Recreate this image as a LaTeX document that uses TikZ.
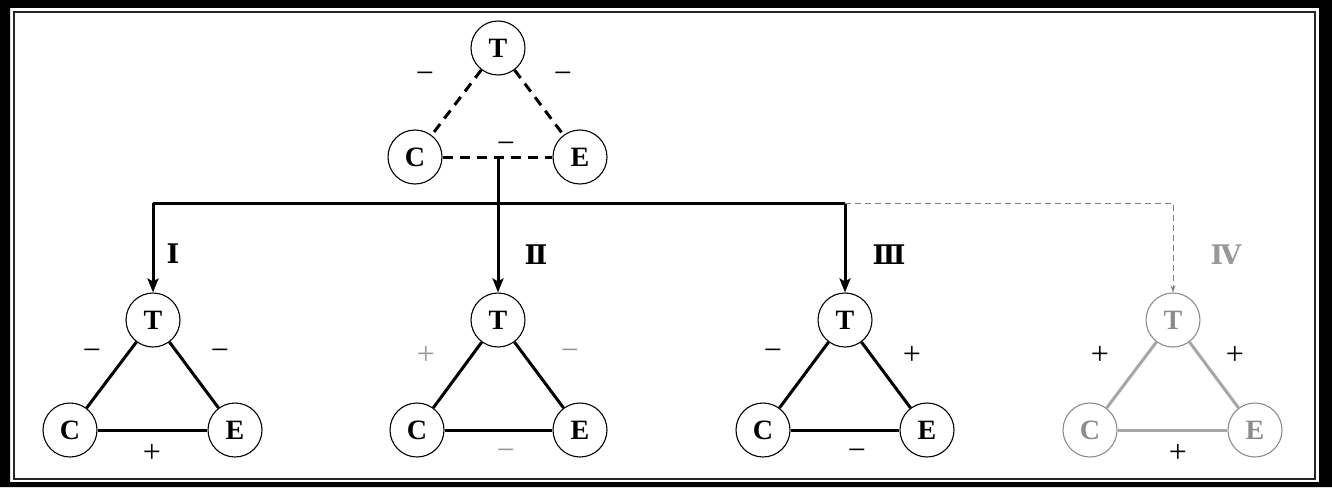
\documentclass[tikz,border=0pt]{standalone}
\usepackage{fontspec}
\setmainfont{Liberation Serif}
\newfontfamily\romfont{DejaVu Serif}
\usetikzlibrary{arrows.meta}

\begin{document}
\begin{tikzpicture}[
    x=1pt, y=-1pt,  % coordonnées en pixels
    circ/.style={circle, draw, line width=1.1pt, minimum size=54pt, inner sep=0pt,
        font=\fontsize{28}{28}\selectfont\bfseries},
    lien/.style={line width=3pt},
    neg/.style={lien, dash pattern=on 10pt off 7pt},
    sgn/.style={font=\fontsize{32}{32}\selectfont, inner sep=0pt},
    num/.style={font=\romfont\fontsize{27}{27}\selectfont\bfseries, inner sep=0pt},
    fleche/.style={line width=3pt, -{Stealth[length=14pt,width=11pt,inset=3pt]}},
    pale/.style={draw=black!45, text=black!45}
]
\useasboundingbox (0,0) rectangle (1332,487);
% Cadre double
\fill[even odd rule] (0,0) rectangle (1332,487) (10,8) rectangle (1319,482);
\draw[line width=1.5pt, black!85] (14,12) rectangle (1315,479);

% Triade de départ
\node[circ] (tTop) at (498,48) {T};
\node[circ] (cTop) at (415,157) {C};
\node[circ] (eTop) at (580,157) {E};
\draw[neg] (tTop) -- (cTop);
\draw[neg] (tTop) -- (eTop);
\draw[neg] (cTop) -- (eTop);
\node[sgn] (sTopA) at (425,78) {−};
\node[sgn] (sTopB) at (563,78) {−};
\node[sgn] (sTopC) at (506,148) {−};

% Triade I
\node[circ] (t1) at (153,320) {T};
\node[circ] (c1) at (70,430) {C};
\node[circ] (e1) at (235,430) {E};
\draw[lien] (t1) -- (c1);
\draw[lien] (t1) -- (e1);
\draw[lien] (c1) -- (e1);
\node[sgn] (s1a) at (92,355) {−};
\node[sgn] (s1b) at (220,355) {−};
\node[sgn] (s1c) at (152,453) {+};

% Triade II
\node[circ] (t2) at (498,320) {T};
\node[circ] (c2) at (417,430) {C};
\node[circ] (e2) at (580,430) {E};
\draw[lien] (t2) -- (c2);
\draw[lien] (t2) -- (e2);
\draw[lien] (c2) -- (e2);
\node[sgn, text=black!40] (s2a) at (426,355) {+};
\node[sgn, text=black!40] (s2b) at (570,355) {−};
\node[sgn, text=black!40] (s2c) at (506,455) {−};

% Triade III
\node[circ] (t3) at (845,320) {T};
\node[circ] (c3) at (763,430) {C};
\node[circ] (e3) at (927,430) {E};
\draw[lien] (t3) -- (c3);
\draw[lien] (t3) -- (e3);
\draw[lien] (c3) -- (e3);
\node[sgn] (s3a) at (773,355) {−};
\node[sgn] (s3b) at (912,355) {+};
\node[sgn] (s3c) at (857,455) {−};

% Triade IV (grisée)
\node[circ, pale] (t4) at (1173,320) {T};
\node[circ, pale] (c4) at (1090,430) {C};
\node[circ, pale] (e4) at (1255,430) {E};
\draw[lien, black!35] (t4) -- (c4);
\draw[lien, black!35] (t4) -- (e4);
\draw[lien, black!35] (c4) -- (e4);
\node[sgn] (s4a) at (1100,355) {+};
\node[sgn] (s4b) at (1235,355) {+};
\node[sgn] (s4c) at (1178,453) {+};

% Embranchements
\coordinate (bus) at (498,203);
\draw[lien] (t1 |- bus) -- (t3 |- bus);
\draw[fleche] (t1 |- bus) -- (t1);
\draw[fleche] (tTop |- cTop) -- (t2);
\draw[fleche] (t3 |- bus) -- (t3);
\draw[black!50, line width=1pt, dash pattern=on 6pt off 4pt,
    -{Stealth[length=7pt,width=5pt]}] (t3 |- bus) -- (t4 |- bus) -- (t4);
\node[num] (n1) at (173,254) {Ⅰ};
\node[num] (n2) at (536,255) {Ⅱ};
\node[num] (n3) at (889,255) {Ⅲ};
\node[num, text=black!40] (n4) at (1226,255) {Ⅳ};
\end{tikzpicture}
\end{document}
